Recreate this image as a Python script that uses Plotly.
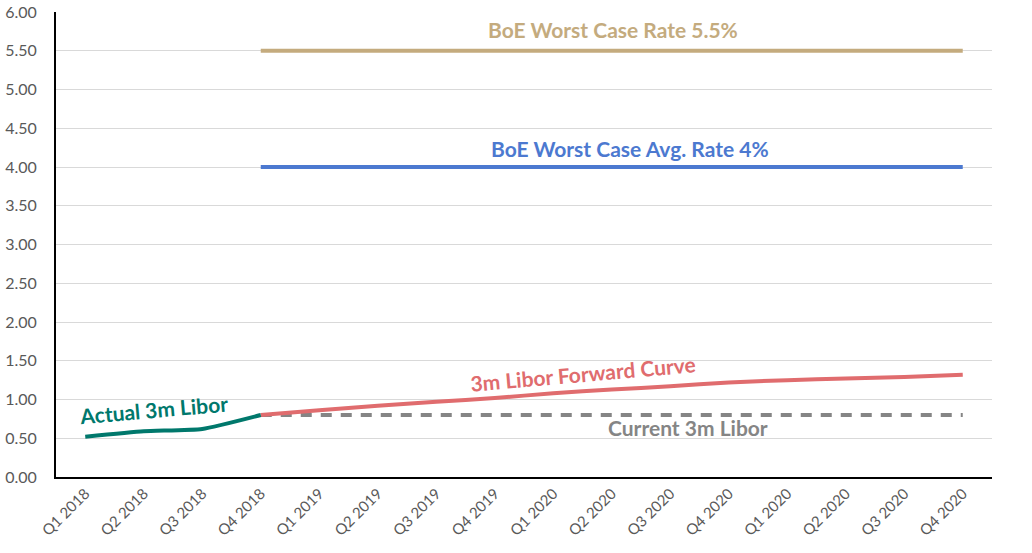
import plotly.graph_objects as go

quarters = ["Q1 2018", "Q2 2018", "Q3 2018", "Q4 2018",
            "Q1 2019", "Q2 2019", "Q3 2019", "Q4 2019",
            "Q1 2020", "Q2 2020", "Q3 2020", "Q4 2020",
            "Q1 2020", "Q2 2020", "Q3 2020", "Q4 2020"]

actual_libor = [0.52, 0.59, 0.62, 0.80] + [None] * 12
forward_curve = [None, None, None, 0.80, 0.86, 0.92, 0.97, 1.02,
                 1.08, 1.13, 1.17, 1.22, 1.25, 1.27, 1.29, 1.32]
current_libor = [None, None, None] + [0.80] * 13
boe_avg = [None, None, None] + [4.0] * 13
boe_worst = [None, None, None] + [5.5] * 13

x = list(range(len(quarters)))

FONT = "Lato"
fig = go.Figure()

fig.add_trace(go.Scatter(x=x, y=boe_worst, mode="lines",
                         line=dict(color="#C4AB7E", width=4), hoverinfo="skip"))
fig.add_trace(go.Scatter(x=x, y=boe_avg, mode="lines",
                         line=dict(color="#4C79D0", width=4), hoverinfo="skip"))
fig.add_trace(go.Scatter(x=x, y=current_libor, mode="lines",
                         line=dict(color="#858585", width=4, dash="11px,9px"), hoverinfo="skip"))
fig.add_trace(go.Scatter(x=x, y=forward_curve, mode="lines",
                         line=dict(color="#E06C6E", width=4, shape="spline", smoothing=0.6),
                         hoverinfo="skip"))
fig.add_trace(go.Scatter(x=x, y=actual_libor, mode="lines",
                         line=dict(color="#00786C", width=4, shape="spline", smoothing=0.5),
                         hoverinfo="skip"))

def ann(text, xp, yp, color, angle=0, size=21):
    fig.add_annotation(text="<b>%s</b>" % text, x=xp, y=yp, xref="paper", yref="paper",
                       showarrow=False, textangle=angle,
                       font=dict(family=FONT, size=size, color=color),
                       xanchor="center", yanchor="middle")

# paper coords: plot area on screen x 56..992, y 12..477
def px(xpix):
    return (xpix - 56) / (992 - 56)

def py(ypix):
    return (477 - ypix) / (477 - 12)

ann("BoE Worst Case Rate 5.5%", px(613), py(30), "#C4AB7E")
ann("BoE Worst Case Avg. Rate 4%", px(630), py(148), "#4C79D0")
ann("3m Libor Forward Curve", px(583), py(373), "#E06C6E", angle=-5)
ann("Actual 3m Libor", px(153), py(409), "#00786C", angle=-5)
ann("Current 3m Libor", px(688), py(427), "#858585")

fig.update_layout(
    width=1032, height=553,
    margin=dict(l=56, r=40, t=12, b=76),
    paper_bgcolor="white", plot_bgcolor="white",
    showlegend=False,
    font=dict(family=FONT, color="#595959"),
)
fig.update_xaxes(
    range=[-0.5, len(quarters) - 0.5],
    tickmode="array", tickvals=x, ticktext=quarters,
    tickangle=-45, tickfont=dict(size=15, color="#595959"),
    showgrid=False, zeroline=False,
    showline=True, linecolor="black", linewidth=2,
    ticks="", fixedrange=True, automargin=False,
)
fig.update_yaxes(
    range=[0, 6], tickmode="array",
    tickvals=[i * 0.5 for i in range(13)],
    tickformat=".2f",
    tickfont=dict(size=16, color="#595959"),
    showgrid=True, gridcolor="#D9D9D9", gridwidth=1,
    zeroline=False, showline=True, linecolor="black", linewidth=2,
    ticks="", ticklabelstandoff=14, fixedrange=True, automargin=False,
)

# remove the default 8px page margin so the figure fills the window exactly
fig.write_html("out.html",
               config={"displayModeBar": False},
               post_script="document.body.style.margin='0';document.body.style.overflow='hidden';")
